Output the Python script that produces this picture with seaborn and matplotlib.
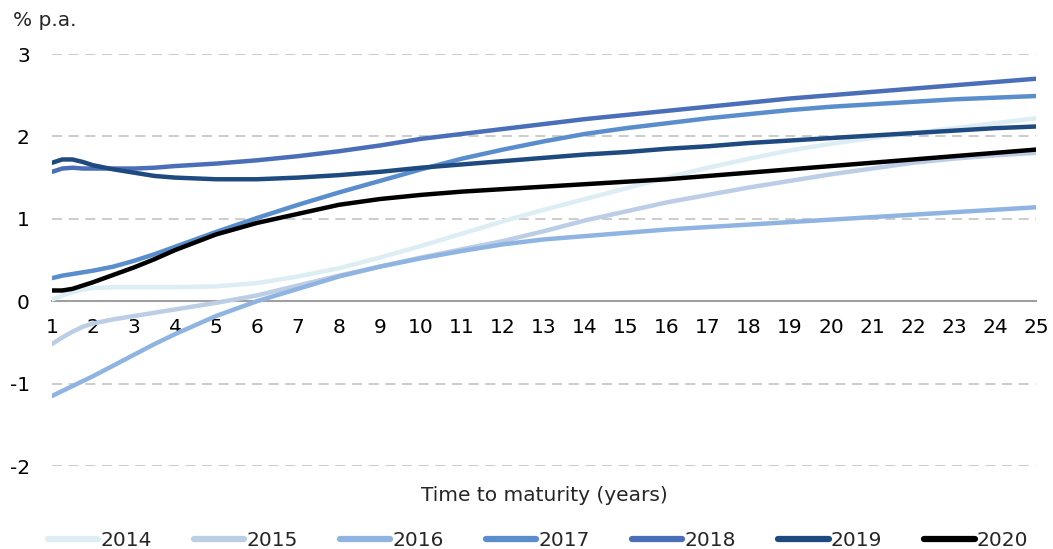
import numpy as np
import pandas as pd
import matplotlib
matplotlib.use("Agg")
import matplotlib.pyplot as plt
import seaborn as sns
from matplotlib.lines import Line2D

maturity = [1, 1.25, 1.5, 1.75, 2, 2.5, 3, 3.5, 4, 5, 6, 7, 8, 9, 10, 11, 12, 13,
            14, 15, 16, 17, 18, 19, 20, 21, 22, 23, 24, 25]

y2014 = [0.02, 0.07, 0.11, 0.14, 0.16, 0.17, 0.17, 0.17, 0.17, 0.18, 0.22, 0.30, 0.40, 0.53,
         0.67, 0.82, 0.97, 1.11, 1.24, 1.37, 1.50, 1.62, 1.73, 1.83, 1.91, 1.98, 2.04, 2.10,
         2.16, 2.22]
y2015 = [-0.52, -0.44, -0.37, -0.31, -0.27, -0.22, -0.18, -0.14, -0.10, -0.02, 0.07, 0.19,
         0.31, 0.42, 0.53, 0.63, 0.73, 0.85, 0.98, 1.09, 1.20, 1.29, 1.38, 1.46, 1.54, 1.61,
         1.68, 1.73, 1.77, 1.80]
y2016 = [-1.15, -1.09, -1.03, -0.97, -0.91, -0.78, -0.65, -0.52, -0.40, -0.18, 0.00, 0.15,
         0.30, 0.42, 0.52, 0.61, 0.69, 0.75, 0.79, 0.83, 0.87, 0.90, 0.93, 0.96, 0.99, 1.02,
         1.05, 1.08, 1.11, 1.14]
y2017 = [0.28, 0.31, 0.33, 0.35, 0.37, 0.42, 0.49, 0.57, 0.66, 0.84, 1.01, 1.17, 1.32, 1.46,
         1.60, 1.73, 1.84, 1.94, 2.03, 2.10, 2.16, 2.22, 2.27, 2.32, 2.36, 2.39, 2.42, 2.45,
         2.47, 2.49]
y2018 = [1.57, 1.61, 1.62, 1.61, 1.61, 1.61, 1.61, 1.62, 1.64, 1.67, 1.71, 1.76, 1.82, 1.89,
         1.97, 2.03, 2.09, 2.15, 2.21, 2.26, 2.31, 2.36, 2.41, 2.46, 2.50, 2.54, 2.58, 2.62,
         2.66, 2.70]
y2019 = [1.68, 1.72, 1.72, 1.69, 1.65, 1.60, 1.56, 1.52, 1.50, 1.48, 1.48, 1.50, 1.53, 1.57,
         1.62, 1.66, 1.70, 1.74, 1.78, 1.81, 1.85, 1.88, 1.92, 1.95, 1.98, 2.01, 2.04, 2.07,
         2.10, 2.12]
y2020 = [0.13, 0.13, 0.15, 0.19, 0.23, 0.32, 0.41, 0.51, 0.62, 0.81, 0.95, 1.06, 1.17, 1.24,
         1.29, 1.33, 1.36, 1.39, 1.42, 1.45, 1.48, 1.52, 1.56, 1.60, 1.64, 1.68, 1.72, 1.76,
         1.80, 1.84]

years = ["2014", "2015", "2016", "2017", "2018", "2019", "2020"]
series = [y2014, y2015, y2016, y2017, y2018, y2019, y2020]
colors = ["#dcedf4", "#bccde6", "#8fb4e1", "#5a8dcc", "#4a6fb8", "#1f4a80", "#000000"]

rows = []
for yr, vals in zip(years, series):
    for m, v in zip(maturity, vals):
        rows.append({"maturity": m, "value": v, "year": yr})
df = pd.DataFrame(rows)

sns.set_style("white")
plt.rcParams["font.family"] = ["DejaVu Sans"]

fig = plt.figure(figsize=(10.53, 5.49), dpi=100)
ax = fig.add_axes([52 / 1053, 1 - 466 / 549, (1036 - 52) / 1053, (466 - 54) / 549])

sns.lineplot(data=df, x="maturity", y="value", hue="year", hue_order=years,
             palette=dict(zip(years, colors)), linewidth=3.2, ax=ax, legend=False,
             estimator=None, sort=True)

ax.set_xlim(1, 25)
ax.set_ylim(-2, 3)
ax.set_xticks(range(1, 26))
ax.set_yticks([-2, -1, 0, 1, 2, 3])
ax.set_yticklabels(["-2", "-1", "0", "1", "2", "3"])
ax.set_xlabel("")
ax.set_ylabel("")

for yv in [-2, -1, 1, 2, 3]:
    ax.axhline(yv, color="#c4c4c4", lw=1.2, ls=(0, (6, 4)), zorder=0)

for s in ["left", "right", "top"]:
    ax.spines[s].set_visible(False)
ax.spines["bottom"].set_position(("data", 0))
ax.spines["bottom"].set_color("#a0a0a0")
ax.spines["bottom"].set_linewidth(1.5)
ax.spines["bottom"].set_zorder(0.5)

ax.tick_params(axis="x", direction="out", length=6, width=1.5, color="#a0a0a0",
               labelsize=14.5, pad=6, labelcolor="#000000")
ax.tick_params(axis="y", length=0, labelsize=14.5, pad=16, labelcolor="#000000")

ax.text(0.5, -0.072, "Time to maturity (years)", transform=ax.transAxes,
        ha="center", va="center", fontsize=14.5)
fig.text(13 / 1053, 1 - 20 / 549, "% p.a.", ha="left", va="center", fontsize=14.5)

handles = [Line2D([0], [0], color=c, lw=4.5, solid_capstyle="round") for c in colors]
fig.legend(handles, years, loc="center", bbox_to_anchor=(538 / 1053, 1 - 541 / 549),
           ncol=7, frameon=False, fontsize=14.5, handlelength=2.5, handletextpad=0.1,
           columnspacing=2.1, borderpad=0, borderaxespad=0)

fig.savefig("out.png", dpi=100)
